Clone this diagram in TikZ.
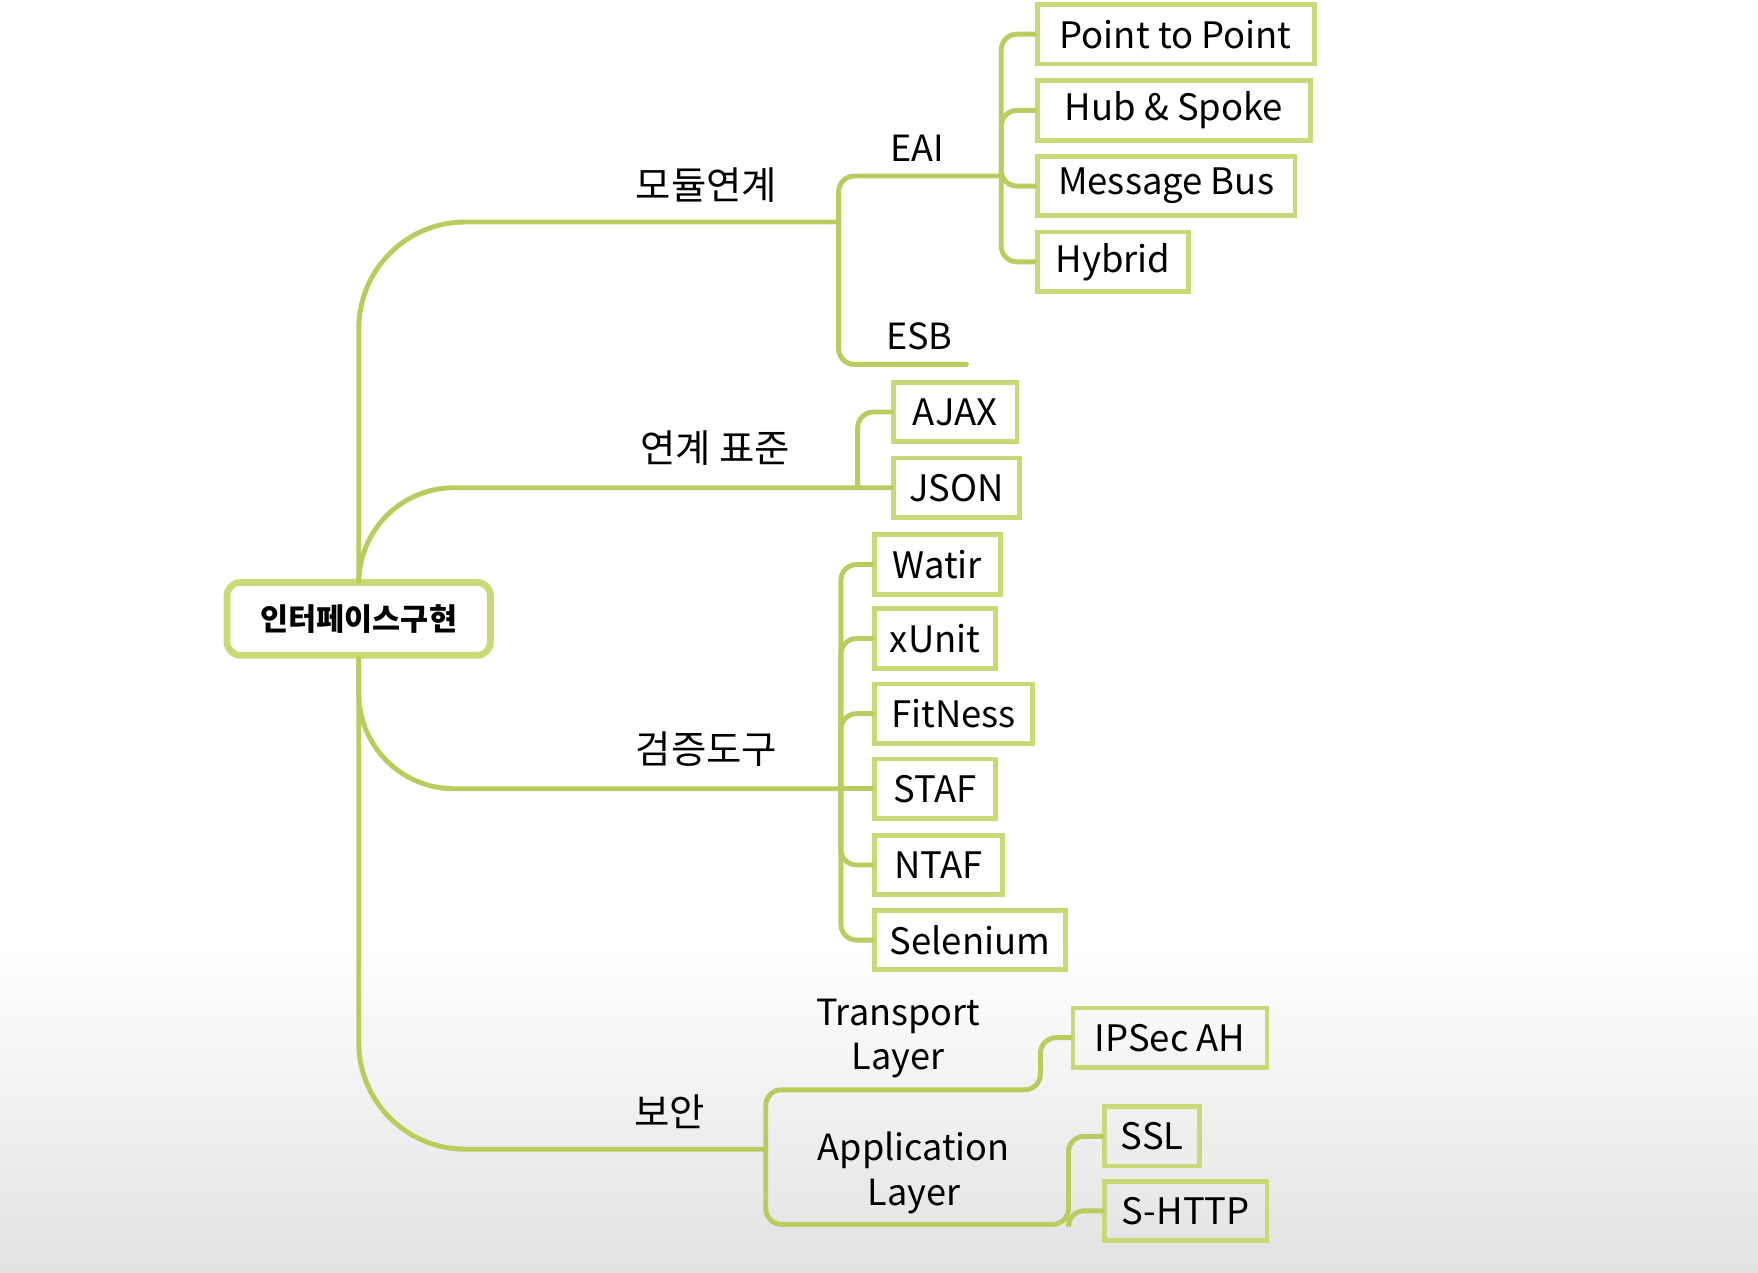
\documentclass[tikz,border=0pt]{standalone}
\usepackage{fontspec}
\setmainfont{Noto Sans CJK KR}
\usetikzlibrary{positioning}

\definecolor{linegreen}{RGB}{185,205,95}
\definecolor{boxgreen}{RGB}{200,218,118}
\definecolor{bggray}{RGB}{226,226,226}
\newcommand\unitpx{0.02cm}

\tikzset{
  branch/.style={draw=linegreen, line width=2.5pt},
  leaf/.style={draw=boxgreen, line width=2.4pt, anchor=west, minimum height=53*\unitpx,
    inner xsep=0pt, font=\fontsize{18.5}{22}\selectfont},
  lbl/.style={font=\fontsize{19.5}{23}\selectfont, align=center, inner sep=0pt},
  latinlbl/.style={lbl, font=\fontsize{18.3}{22.5}\selectfont},
  rootbox/.style={draw=boxgreen, line width=3.4pt, rounded corners=12*\unitpx, fill=white,
    minimum width=235*\unitpx, minimum height=65*\unitpx, font=\fontsize{15.5}{18}\selectfont\bfseries}
}

\begin{document}
\begin{tikzpicture}[x=\unitpx,y=-\unitpx,line cap=round]
        % page and background
        \useasboundingbox (0,0) rectangle (1568,1135);
        \fill[white] (0,0) rectangle (1568,1135);
        \shade[top color=white,bottom color=bggray] (0,840) rectangle (1568,1135);

        % the centre
        \node[rootbox] (root) at (320,552) {인터페이스구현};

        % the boxes on the right
        \foreach \name/\txt/\x/\y/\w in {
            p2p/Point to Point/923/30.5/247,
            hub/Hub \& Spoke/923/98.5/244,
            msgbus/Message Bus/923/166/230,
            hybrid/Hybrid/923/233.5/135,
            ajax/AJAX/795/367.5/110,
            json/JSON/795/435/112,
            watir/Watir/778/503.5/112,
            xunit/xUnit/778/569.5/108,
            fitness/FitNess/778/636.5/141,
            staf/STAF/778/703.5/108,
            ntaf/NTAF/778/771.5/114,
            selenium/Selenium/778/838.5/170,
            ipsec/IPSec AH/955/925.5/173,
            ssl/SSL/983/1013.5/85,
            shttp/S-HTTP/983/1080/145}
                \node[leaf, minimum width=\w*\unitpx] (\name) at (\x,\y) {\txt};

        % labels on the lines
        \node[lbl] (modlbl) at (630,165) {모듈연계};
        \node[lbl] (stdlbl) at (638,400) {연계 표준};
        \node[lbl] (testlbl) at (630,668) {검증도구};
        \node[lbl] (seclbl) at (597,992) {보안};
        \node[latinlbl] (eailbl) at (818,132) {EAI};
        \node[latinlbl] (esblbl) at (820,300) {ESB};
        \node[latinlbl] (trlbl) at (801,926) {Transport\\Layer};
        \node[latinlbl] (aplbl) at (815,1046) {Application\\Layer};

        % joints of the branches
        \coordinate (modj) at (748,198);
        \coordinate (eaij) at (893,157);
        \coordinate (esbend) at (862,325);
        \coordinate (stdj) at (765,435);
        \coordinate (testj) at (750,703.5);
        \coordinate (secj) at (683,1025);
        \coordinate (trj) at (928,972);
        \coordinate (apj) at (953,1092);

        % main branches from the centre
        \draw[branch, rounded corners=95*\unitpx] (root.north) |- (modj);
        \draw[branch, rounded corners=85*\unitpx] (root.north) |- (json.west);
        \draw[branch, rounded corners=85*\unitpx] (root.south) |- (testj);
        \draw[branch, rounded corners=95*\unitpx] (root.south) |- (secj);

        % module branch
        \draw[branch, rounded corners=14*\unitpx] (eaij) -| (modj) |- (esbend);
        \foreach \b in {p2p,hub,msgbus,hybrid}
                \draw[branch, rounded corners=14*\unitpx] (eaij) |- (\b.west);

        % standard branch
        \draw[branch, rounded corners=14*\unitpx] (stdj) |- (ajax.west);

        % test tools
        \foreach \b in {watir,xunit,fitness,ntaf,selenium}
                \draw[branch, rounded corners=14*\unitpx] (testj) |- (\b.west);
        \draw[branch] (testj) -- (staf.west);

        % security branch
        \draw[branch, rounded corners=14*\unitpx] (secj) |- (trj) |- (ipsec.west);
        \draw[branch, rounded corners=14*\unitpx] (secj) |- (apj) |- (ssl.west);
        \draw[branch, rounded corners=14*\unitpx] (apj) |- (shttp.west);
\end{tikzpicture}
\end{document}
